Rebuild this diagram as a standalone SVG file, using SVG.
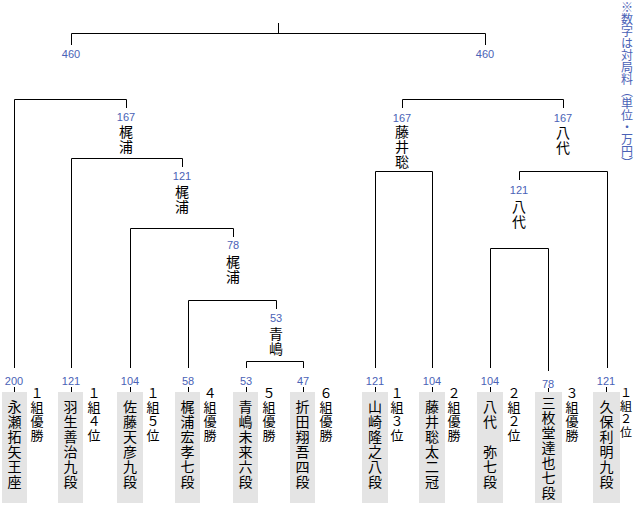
<svg xmlns="http://www.w3.org/2000/svg" width="635" height="505" viewBox="0 0 635 505">
<style>
.num{font-family:"Liberation Sans",Arial,sans-serif;font-size:11px;fill:#4a62b6;text-anchor:middle}
.vt{font-family:"Noto Sans CJK JP","Noto Sans CJK SC",sans-serif;writing-mode:vertical-rl;text-orientation:upright;text-anchor:start;fill:#000}
.win{font-size:14px;letter-spacing:1px}
.name{font-size:14px;letter-spacing:1px}
.grp{font-size:13px;letter-spacing:1px}
.note{font-size:12px;fill:#4a62b6}
.box{fill:#e4e4e4}
.ln{fill:none;stroke:#000;stroke-width:1}
</style>
<rect width="635" height="505" fill="#fff"/>
<g id="connectors" class="ln">
<path d="M278.5 23V33.5M71.5 45V33.5H485.5V45"/>
<path d="M14.5 368V99.5H126.5V108"/>
<path d="M71.5 368V158.5H182.5V167"/>
<path d="M130.5 368V228.5H233.5V237"/>
<path d="M188.5 368V300.5H276.5V309"/>
<path d="M246.5 368V361.5H303.5V368"/>
<path d="M402.5 108V99.5H563.5V108"/>
<path d="M375.5 368V171.5H432.5V368"/>
<path d="M519.5 180V171.5H607.5V368"/>
<path d="M490.5 368V248.5H548.5V371"/>
<path d="M14.5 387V392M71.5 387V392M130.5 387V392M188.5 387V392M246.5 387V392M303.5 387V392M375.5 387V392M432.5 387V392M490.5 387V392M548.5 388V392M606.5 387V392"/>
</g>
<g id="note"><text class="vt note" x="627" y="1">※数字は対局料（単位・万円）</text></g>
<g id="final-l"><text class="num" x="71" y="58">460</text></g>
<g id="final-r"><text class="num" x="485" y="58">460</text></g>
<g id="semi-l"><text class="num" x="126" y="121">167</text><text class="vt win" x="126" y="125">梶浦</text></g>
<g id="r3-l"><text class="num" x="182" y="180">121</text><text class="vt win" x="182" y="185">梶浦</text></g>
<g id="r2-l"><text class="num" x="233" y="249">78</text><text class="vt win" x="233" y="255">梶浦</text></g>
<g id="r1-l"><text class="num" x="276" y="322">53</text><text class="vt win" x="276" y="327">青嶋</text></g>
<g id="semi-r1"><text class="num" x="402" y="122">167</text><text class="vt win" x="402" y="125">藤井聡</text></g>
<g id="semi-r2"><text class="num" x="563" y="122">167</text><text class="vt win" x="563" y="126">八代</text></g>
<g id="r1-r"><text class="num" x="519" y="194">121</text><text class="vt win" x="519" y="200">八代</text></g>
<g id="p1"><text class="num" x="14" y="385">200</text><rect class="box" x="2" y="392" width="25" height="111"/><text class="vt name" x="14.5" y="400">永瀬拓矢王座</text><text class="vt grp" x="37" y="387">１組優勝</text></g>
<g id="p2"><text class="num" x="71" y="385">121</text><rect class="box" x="58" y="392" width="25" height="111"/><text class="vt name" x="70.5" y="400">羽生善治九段</text><text class="vt grp" x="94" y="387">１組４位</text></g>
<g id="p3"><text class="num" x="130" y="385">104</text><rect class="box" x="117" y="392" width="26" height="111"/><text class="vt name" x="130" y="400">佐藤天彦九段</text><text class="vt grp" x="153" y="387">１組５位</text></g>
<g id="p4"><text class="num" x="188" y="385">58</text><rect class="box" x="175" y="392" width="25" height="111"/><text class="vt name" x="187.5" y="400">梶浦宏孝七段</text><text class="vt grp" x="210" y="387">４組優勝</text></g>
<g id="p5"><text class="num" x="246" y="385">53</text><rect class="box" x="233" y="392" width="25" height="111"/><text class="vt name" x="245.5" y="400">青嶋未来六段</text><text class="vt grp" x="269" y="387">５組優勝</text></g>
<g id="p6"><text class="num" x="303" y="385">47</text><rect class="box" x="290" y="392" width="25" height="111"/><text class="vt name" x="302.5" y="400">折田翔吾四段</text><text class="vt grp" x="326" y="387">６組優勝</text></g>
<g id="p7"><text class="num" x="375" y="385">121</text><rect class="box" x="362" y="392" width="26" height="111"/><text class="vt name" x="375" y="400">山崎隆之八段</text><text class="vt grp" x="397" y="387">１組３位</text></g>
<g id="p8"><text class="num" x="432" y="385">104</text><rect class="box" x="419" y="392" width="26" height="111"/><text class="vt name" x="432" y="400">藤井聡太二冠</text><text class="vt grp" x="454" y="387">２組優勝</text></g>
<g id="p9"><text class="num" x="490" y="385">104</text><rect class="box" x="477" y="392" width="26" height="111"/><text class="vt name" x="490" y="400">八代　弥七段</text><text class="vt grp" x="514" y="387">２組２位</text></g>
<g id="p10"><text class="num" x="548" y="388">78</text><rect class="box" x="535" y="392" width="27" height="111"/><text class="vt name" x="548.5" y="396">三枚堂達也七段</text><text class="vt grp" x="572" y="387">３組優勝</text></g>
<g id="p11"><text class="num" x="606" y="385">121</text><rect class="box" x="593" y="392" width="27" height="111"/><text class="vt name" x="606.5" y="400">久保利明九段</text><text class="vt grp" x="626" y="387" style="font-size:12px">１組２位</text></g>
</svg>
